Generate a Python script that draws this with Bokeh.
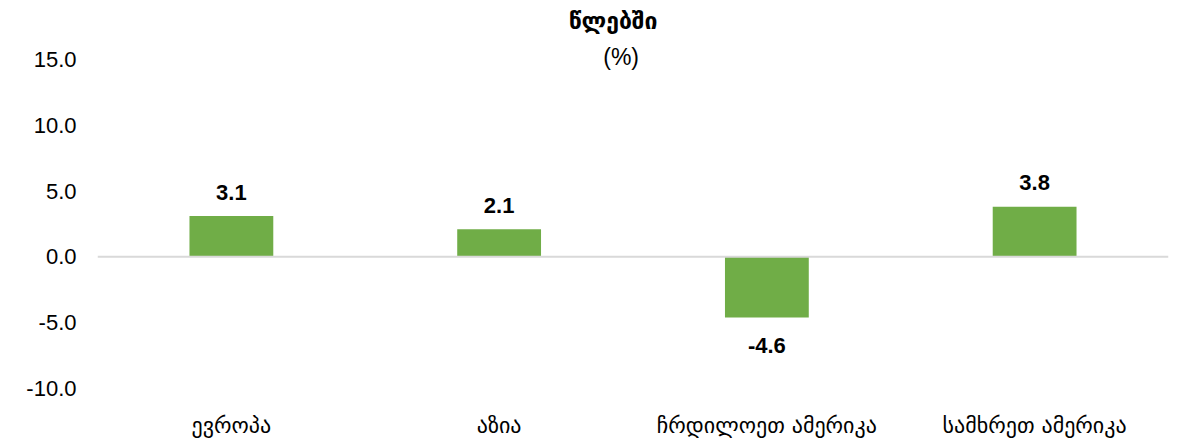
from bokeh.plotting import figure
from bokeh.models import FixedTicker, Range1d, FactorRange, Span, ColumnDataSource, CustomJSTickFormatter
from bokeh.core.properties import value
from bokeh.embed import file_html
from bokeh.resources import INLINE

categories = ["ევროპა", "აზია", "ჩრდილოეთ ამერიკა", "სამხრეთ ამერიკა"]
values = [3.1, 2.1, -4.6, 3.8]
y_ticks = [-10, -5, 0, 5, 10, 15]
title_text = "წლებში"
subtitle_text = "(%)"

GREEN = "#70AD47"
geo_font = "DejaVu Sans"
num_font = "Liberation Sans"

p = figure(width=1176, height=440, output_backend="svg", toolbar_location=None,
           x_range=FactorRange(*categories, range_padding=0),
           y_range=Range1d(-10, 19.47),
           min_border_left=97, min_border_right=8, min_border_top=0, min_border_bottom=51)
p.outline_line_color = None
p.grid.visible = False
p.background_fill_color = "white"
p.border_fill_color = "white"

src = ColumnDataSource(dict(
    cat=categories, val=values,
    lab=[f"{v:.1f}" for v in values],
    off=[-24 if v >= 0 else 28 for v in values],
))
p.vbar(x="cat", top="val", bottom=0, width=0.313, source=src,
       fill_color=GREEN, line_color=None)
p.add_layout(Span(location=0, dimension="width", line_color="#D9D9D9", line_width=2))
p.text(x="cat", y="val", text="lab", y_offset="off", source=src,
       text_align="center", text_baseline="middle",
       text_font=value(num_font), text_font_style="bold", text_font_size="22px",
       text_color="#000000")

# title and subtitle
p.text(x=[categories[1]], y=[17.95], text=[title_text], x_offset=114,
       text_align="center", text_baseline="middle",
       text_font=value(geo_font), text_font_style="bold", text_font_size="23px",
       text_color="#000000")
p.text(x=[categories[1]], y=[15.2], text=[subtitle_text], x_offset=122,
       text_align="center", text_baseline="middle",
       text_font=value(num_font), text_font_size="23px", text_color="#000000")

p.yaxis.ticker = FixedTicker(ticks=y_ticks)
p.yaxis.formatter = CustomJSTickFormatter(code="return tick.toFixed(1);")
p.yaxis.axis_line_color = None
p.yaxis.major_tick_line_color = None
p.yaxis.minor_tick_line_color = None
p.yaxis.major_label_standoff = 15
p.yaxis.major_label_text_font = num_font
p.yaxis.major_label_text_font_size = "22px"
p.yaxis.major_label_text_color = "#000000"

p.xaxis.axis_line_color = None
p.xaxis.major_tick_line_color = None
p.xaxis.minor_tick_line_color = None
p.xaxis.major_label_standoff = 18
p.xaxis.major_label_text_font = geo_font
p.xaxis.major_label_text_font_size = "22px"
p.xaxis.major_label_text_color = "#000000"

open("out.html", "w").write(file_html(p, INLINE))
